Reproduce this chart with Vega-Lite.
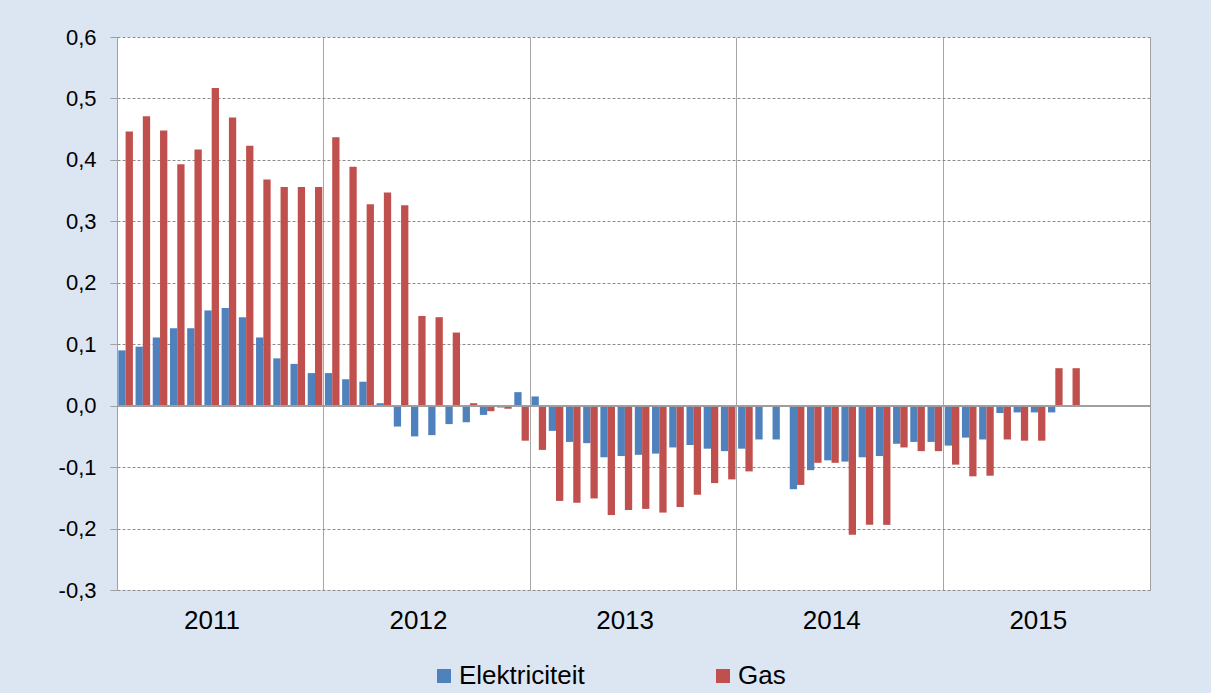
{
  "$schema": "https://vega.github.io/schema/vega-lite/v6.json",
  "width": 1033,
  "height": 553,
  "autosize": {"type": "none"},
  "padding": {"left": 117, "top": 37, "right": 61, "bottom": 103},
  "background": "#dce6f2",
  "view": {"fill": "white", "stroke": null},
  "config": {"font": "Liberation Sans"},
  "data": {
    "values": [
      {"maand": "2011-01", "reeks": "Elektriciteit", "waarde": 0.090}, {"maand": "2011-01", "reeks": "Gas", "waarde": 0.446},
      {"maand": "2011-02", "reeks": "Elektriciteit", "waarde": 0.096}, {"maand": "2011-02", "reeks": "Gas", "waarde": 0.471},
      {"maand": "2011-03", "reeks": "Elektriciteit", "waarde": 0.111}, {"maand": "2011-03", "reeks": "Gas", "waarde": 0.448},
      {"maand": "2011-04", "reeks": "Elektriciteit", "waarde": 0.126}, {"maand": "2011-04", "reeks": "Gas", "waarde": 0.393},
      {"maand": "2011-05", "reeks": "Elektriciteit", "waarde": 0.126}, {"maand": "2011-05", "reeks": "Gas", "waarde": 0.417},
      {"maand": "2011-06", "reeks": "Elektriciteit", "waarde": 0.155}, {"maand": "2011-06", "reeks": "Gas", "waarde": 0.517},
      {"maand": "2011-07", "reeks": "Elektriciteit", "waarde": 0.159}, {"maand": "2011-07", "reeks": "Gas", "waarde": 0.469},
      {"maand": "2011-08", "reeks": "Elektriciteit", "waarde": 0.144}, {"maand": "2011-08", "reeks": "Gas", "waarde": 0.423},
      {"maand": "2011-09", "reeks": "Elektriciteit", "waarde": 0.111}, {"maand": "2011-09", "reeks": "Gas", "waarde": 0.368},
      {"maand": "2011-10", "reeks": "Elektriciteit", "waarde": 0.077}, {"maand": "2011-10", "reeks": "Gas", "waarde": 0.356},
      {"maand": "2011-11", "reeks": "Elektriciteit", "waarde": 0.068}, {"maand": "2011-11", "reeks": "Gas", "waarde": 0.356},
      {"maand": "2011-12", "reeks": "Elektriciteit", "waarde": 0.053}, {"maand": "2011-12", "reeks": "Gas", "waarde": 0.356},
      {"maand": "2012-01", "reeks": "Elektriciteit", "waarde": 0.053}, {"maand": "2012-01", "reeks": "Gas", "waarde": 0.437},
      {"maand": "2012-02", "reeks": "Elektriciteit", "waarde": 0.043}, {"maand": "2012-02", "reeks": "Gas", "waarde": 0.389},
      {"maand": "2012-03", "reeks": "Elektriciteit", "waarde": 0.039}, {"maand": "2012-03", "reeks": "Gas", "waarde": 0.328},
      {"maand": "2012-04", "reeks": "Elektriciteit", "waarde": 0.004}, {"maand": "2012-04", "reeks": "Gas", "waarde": 0.347},
      {"maand": "2012-05", "reeks": "Elektriciteit", "waarde": -0.034}, {"maand": "2012-05", "reeks": "Gas", "waarde": 0.326},
      {"maand": "2012-06", "reeks": "Elektriciteit", "waarde": -0.050}, {"maand": "2012-06", "reeks": "Gas", "waarde": 0.146},
      {"maand": "2012-07", "reeks": "Elektriciteit", "waarde": -0.048}, {"maand": "2012-07", "reeks": "Gas", "waarde": 0.144},
      {"maand": "2012-08", "reeks": "Elektriciteit", "waarde": -0.030}, {"maand": "2012-08", "reeks": "Gas", "waarde": 0.119},
      {"maand": "2012-09", "reeks": "Elektriciteit", "waarde": -0.027}, {"maand": "2012-09", "reeks": "Gas", "waarde": 0.004},
      {"maand": "2012-10", "reeks": "Elektriciteit", "waarde": -0.015}, {"maand": "2012-10", "reeks": "Gas", "waarde": -0.009},
      {"maand": "2012-11", "reeks": "Elektriciteit", "waarde": -0.003}, {"maand": "2012-11", "reeks": "Gas", "waarde": -0.005},
      {"maand": "2012-12", "reeks": "Elektriciteit", "waarde": 0.022}, {"maand": "2012-12", "reeks": "Gas", "waarde": -0.057},
      {"maand": "2013-01", "reeks": "Elektriciteit", "waarde": 0.015}, {"maand": "2013-01", "reeks": "Gas", "waarde": -0.072},
      {"maand": "2013-02", "reeks": "Elektriciteit", "waarde": -0.041}, {"maand": "2013-02", "reeks": "Gas", "waarde": -0.155},
      {"maand": "2013-03", "reeks": "Elektriciteit", "waarde": -0.059}, {"maand": "2013-03", "reeks": "Gas", "waarde": -0.158},
      {"maand": "2013-04", "reeks": "Elektriciteit", "waarde": -0.061}, {"maand": "2013-04", "reeks": "Gas", "waarde": -0.151},
      {"maand": "2013-05", "reeks": "Elektriciteit", "waarde": -0.084}, {"maand": "2013-05", "reeks": "Gas", "waarde": -0.178},
      {"maand": "2013-06", "reeks": "Elektriciteit", "waarde": -0.082}, {"maand": "2013-06", "reeks": "Gas", "waarde": -0.170},
      {"maand": "2013-07", "reeks": "Elektriciteit", "waarde": -0.080}, {"maand": "2013-07", "reeks": "Gas", "waarde": -0.168},
      {"maand": "2013-08", "reeks": "Elektriciteit", "waarde": -0.078}, {"maand": "2013-08", "reeks": "Gas", "waarde": -0.174},
      {"maand": "2013-09", "reeks": "Elektriciteit", "waarde": -0.068}, {"maand": "2013-09", "reeks": "Gas", "waarde": -0.165},
      {"maand": "2013-10", "reeks": "Elektriciteit", "waarde": -0.064}, {"maand": "2013-10", "reeks": "Gas", "waarde": -0.145},
      {"maand": "2013-11", "reeks": "Elektriciteit", "waarde": -0.070}, {"maand": "2013-11", "reeks": "Gas", "waarde": -0.126},
      {"maand": "2013-12", "reeks": "Elektriciteit", "waarde": -0.074}, {"maand": "2013-12", "reeks": "Gas", "waarde": -0.120},
      {"maand": "2014-01", "reeks": "Elektriciteit", "waarde": -0.070}, {"maand": "2014-01", "reeks": "Gas", "waarde": -0.107},
      {"maand": "2014-02", "reeks": "Elektriciteit", "waarde": -0.055}, {"maand": "2014-02", "reeks": "Gas", "waarde": -0.002},
      {"maand": "2014-03", "reeks": "Elektriciteit", "waarde": -0.055}, {"maand": "2014-03", "reeks": "Gas", "waarde": -0.002},
      {"maand": "2014-04", "reeks": "Elektriciteit", "waarde": -0.136}, {"maand": "2014-04", "reeks": "Gas", "waarde": -0.129},
      {"maand": "2014-05", "reeks": "Elektriciteit", "waarde": -0.105}, {"maand": "2014-05", "reeks": "Gas", "waarde": -0.093},
      {"maand": "2014-06", "reeks": "Elektriciteit", "waarde": -0.089}, {"maand": "2014-06", "reeks": "Gas", "waarde": -0.093},
      {"maand": "2014-07", "reeks": "Elektriciteit", "waarde": -0.091}, {"maand": "2014-07", "reeks": "Gas", "waarde": -0.210},
      {"maand": "2014-08", "reeks": "Elektriciteit", "waarde": -0.084}, {"maand": "2014-08", "reeks": "Gas", "waarde": -0.194},
      {"maand": "2014-09", "reeks": "Elektriciteit", "waarde": -0.082}, {"maand": "2014-09", "reeks": "Gas", "waarde": -0.194},
      {"maand": "2014-10", "reeks": "Elektriciteit", "waarde": -0.062}, {"maand": "2014-10", "reeks": "Gas", "waarde": -0.068},
      {"maand": "2014-11", "reeks": "Elektriciteit", "waarde": -0.059}, {"maand": "2014-11", "reeks": "Gas", "waarde": -0.074},
      {"maand": "2014-12", "reeks": "Elektriciteit", "waarde": -0.059}, {"maand": "2014-12", "reeks": "Gas", "waarde": -0.074},
      {"maand": "2015-01", "reeks": "Elektriciteit", "waarde": -0.065}, {"maand": "2015-01", "reeks": "Gas", "waarde": -0.096},
      {"maand": "2015-02", "reeks": "Elektriciteit", "waarde": -0.052}, {"maand": "2015-02", "reeks": "Gas", "waarde": -0.115},
      {"maand": "2015-03", "reeks": "Elektriciteit", "waarde": -0.055}, {"maand": "2015-03", "reeks": "Gas", "waarde": -0.114},
      {"maand": "2015-04", "reeks": "Elektriciteit", "waarde": -0.012}, {"maand": "2015-04", "reeks": "Gas", "waarde": -0.055},
      {"maand": "2015-05", "reeks": "Elektriciteit", "waarde": -0.011}, {"maand": "2015-05", "reeks": "Gas", "waarde": -0.057},
      {"maand": "2015-06", "reeks": "Elektriciteit", "waarde": -0.011}, {"maand": "2015-06", "reeks": "Gas", "waarde": -0.057},
      {"maand": "2015-07", "reeks": "Elektriciteit", "waarde": -0.011}, {"maand": "2015-07", "reeks": "Gas", "waarde": 0.061},
      {"maand": "2015-08", "reeks": "Gas", "waarde": 0.061}
    ]
  },
  "layer": [
    {
      "mark": {"type": "bar"},
      "encoding": {
        "x": {
          "field": "maand",
          "type": "ordinal",
          "scale": {
            "domain": ["2011-01","2011-02","2011-03","2011-04","2011-05","2011-06","2011-07","2011-08","2011-09","2011-10","2011-11","2011-12",
                       "2012-01","2012-02","2012-03","2012-04","2012-05","2012-06","2012-07","2012-08","2012-09","2012-10","2012-11","2012-12",
                       "2013-01","2013-02","2013-03","2013-04","2013-05","2013-06","2013-07","2013-08","2013-09","2013-10","2013-11","2013-12",
                       "2014-01","2014-02","2014-03","2014-04","2014-05","2014-06","2014-07","2014-08","2014-09","2014-10","2014-11","2014-12",
                       "2015-01","2015-02","2015-03","2015-04","2015-05","2015-06","2015-07","2015-08","2015-09","2015-10","2015-11","2015-12"],
            "paddingInner": 0,
            "paddingOuter": 0
          },
          "axis": {
            "title": null,
            "bandPosition": 0,
            "domain": false,
            "ticks": false,
            "tickSize": 0,
            "labelAngle": 0,
            "labelOverlap": false,
            "labelExpr": "substring(datum.value, 5, 7) === '07' ? substring(datum.value, 0, 4) : ''",
            "labelFont": "Liberation Sans",
            "labelFontSize": 26,
            "labelColor": "#000000",
            "labelPadding": 17,
            "labelOffset": -17,
            "grid": true,
            "gridColor": "#a6a6a6",
            "gridWidth": 1,
            "gridOpacity": {"condition": {"test": "substring(datum.value, 5, 7) === '01'", "value": 1}, "value": 0}
          }
        },
        "xOffset": {
          "field": "reeks",
          "type": "nominal",
          "scale": {"domain": ["Elektriciteit", "Gas"], "paddingInner": 0, "paddingOuter": 0.18}
        },
        "y": {
          "field": "waarde",
          "type": "quantitative",
          "scale": {"domain": [-0.3, 0.6], "nice": false, "zero": false},
          "axis": {
            "title": null,
            "values": [-0.3, -0.2, -0.1, 0, 0.1, 0.2, 0.3, 0.4, 0.5, 0.6],
            "labelExpr": "replace(replace(format(datum.value, '.1f'), '.', ','), '\u2212', '-')",
            "labelFont": "Liberation Sans",
            "labelFontSize": 22,
            "labelColor": "#000000",
            "labelPadding": 14,
            "tickSize": 7,
            "tickColor": "#a0a0a0",
            "domainColor": "#a0a0a0",
            "grid": true,
            "gridColor": "#8c8c8c",
            "gridDash": [3, 2],
            "gridWidth": 1
          }
        },
        "color": {
          "field": "reeks",
          "type": "nominal",
          "scale": {"domain": ["Elektriciteit", "Gas"], "range": ["#4f81bd", "#c0504d"]},
          "legend": {
            "orient": "none",
            "legendX": 314,
            "legendY": 626,
            "direction": "horizontal",
            "title": null,
            "padding": 0,
            "symbolType": "square",
            "symbolSize": 196,
            "symbolStrokeWidth": 0,
            "labelFont": "Liberation Sans",
            "labelFontSize": 26,
            "labelColor": "#000000",
            "labelOffset": 2,
            "columnPadding": 125
          }
        }
      }
    },
    {
      "mark": {"type": "rule", "color": "#a0a0a0", "strokeWidth": 1},
      "encoding": {
        "y": {
          "datum": 0,
          "type": "quantitative",
          "axis": {"orient": "right", "title": null, "labels": false, "ticks": false, "grid": false, "domainColor": "#a0a0a0"}
        }
      }
    }
  ],
  "resolve": {"axis": {"y": "independent"}}
}
